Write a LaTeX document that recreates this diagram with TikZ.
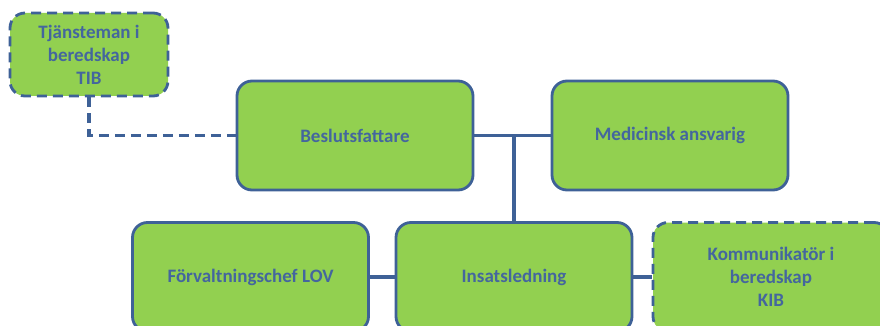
\documentclass[tikz,border=0pt]{standalone}
\usepackage{fontspec}
\setmainfont{Carlito}
\definecolor{boxfill}{HTML}{92D050}
\definecolor{boxline}{HTML}{3E6197}
\definecolor{boxtext}{HTML}{44669E}
\begin{document}
\begin{tikzpicture}[x=1pt,y=-1pt,
  role/.style={draw=boxline, line width=2.8pt, fill=boxfill, rounded corners=15pt,
    minimum width=236pt, minimum height=109pt, inner sep=0pt,
    text=boxtext, font=\bfseries\fontsize{19}{23}\selectfont, align=center},
  standby/.style={role, dash pattern=on 10pt off 6pt},
  link/.style={draw=boxline, line width=3.2pt}]
\useasboundingbox (0,0) rectangle (880,326);
\node[standby, minimum width=158pt, minimum height=83pt] (tib) at (89,54.5) {Tjänsteman i\\beredskap\\TIB};
\node[role] (beslut) at (355,135.5) {Beslutsfattare};
\node[role] (medicin) at (670,135.5) {Medicinsk ansvarig};
\node[role] (lov) at (250.5,277) {Förvaltningschef LOV};
\node[role] (insats) at (514,277) {Insatsledning};
\node[standby] (kib) at (771,277) {Kommunikatör i\\beredskap\\KIB};
\coordinate (bend) at (tib.south |- beslut.west);
\coordinate (fork) at (insats.north |- beslut.east);
\draw[link, dash pattern=on 10pt off 6pt] (tib.south) -- (bend) -- (beslut.west);
\draw[link] (beslut.east) -- (medicin.west);
\draw[link] (fork) -- (insats.north);
\draw[link] (lov.east) -- (insats.west);
\draw[link] (insats.east) -- (kib.west);
\end{tikzpicture}
\end{document}
